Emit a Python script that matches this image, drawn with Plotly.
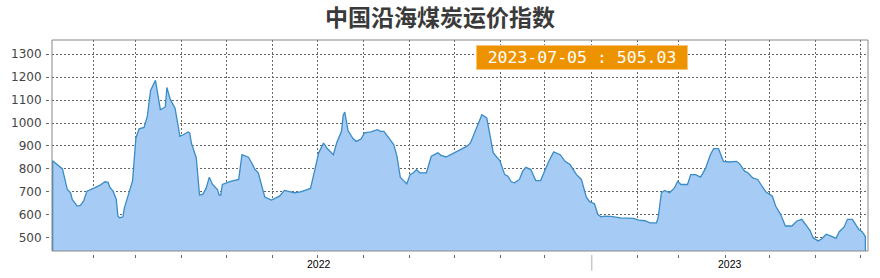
import plotly.graph_objects as go

title_text = "中国沿海煤炭运价指数"
last_date = "2023-07-05"

# trading-day index of each sample and the index value
day_index = [0, 6, 9, 11, 12, 15, 17, 19, 21, 25, 29, 32, 34, 35, 37, 39, 40, 41, 43, 44,
             46, 49, 51, 53, 56, 58, 60, 63, 66, 69, 70, 72, 75, 78, 80, 83, 84, 85, 88, 90,
             92, 94, 96, 98, 101, 102, 103, 104, 109, 114, 116, 120, 122, 124, 126, 128, 130, 134, 139, 142,
             144, 148, 152, 158, 161, 163, 164, 166, 168, 170, 172, 174, 177, 178, 179, 181, 184, 186, 189, 191,
             195, 199, 201, 203, 206, 209, 211, 213, 215, 217, 219, 221, 223, 225, 229, 232, 236, 238, 241, 244,
             251, 254, 256, 258, 260, 263, 266, 268, 270, 274, 277, 279, 281, 283, 286, 288, 290, 293, 296, 299,
             301, 304, 307, 311, 314, 317, 321, 324, 327, 329, 332, 334, 336, 338, 342, 348, 356, 359, 363, 366,
             370, 371, 373, 375, 378, 381, 383, 385, 389, 391, 394, 397, 400, 403, 405, 408, 411, 414, 419, 421,
             424, 426, 429, 432, 434, 437, 441, 443, 446, 449, 453, 456, 459, 462, 464, 466, 469, 471, 474, 477,
             480, 482, 485, 487, 490, 494, 496, 498]
index_values = [836, 800, 710, 696, 667, 638, 641, 660, 703, 715, 729, 744, 741, 720, 703, 667, 594, 587, 590, 631,
                681, 749, 935, 975, 981, 1029, 1142, 1186, 1058, 1070, 1155, 1104, 1065, 942, 949, 961, 957, 913, 848, 686,
                689, 715, 764, 732, 710, 686, 686, 732, 746, 754, 862, 851, 826, 797, 783, 732, 677, 664, 681, 706,
                703, 696, 700, 715, 807, 870, 884, 913, 891, 876, 862, 913, 964, 1033, 1048, 967, 932, 920, 930, 957,
                961, 971, 964, 964, 935, 906, 855, 764, 749, 735, 775, 783, 797, 783, 783, 855, 870, 859, 852, 862,
                887, 899, 913, 949, 986, 1036, 1022, 949, 870, 836, 775, 768, 744, 739, 754, 790, 807, 797, 749, 749,
                783, 833, 874, 862, 833, 819, 775, 754, 677, 657, 648, 602, 591, 594, 593, 586, 584, 577, 574, 565,
                565, 587, 696, 706, 696, 717, 746, 732, 732, 775, 775, 764, 801, 862, 888, 888, 833, 830, 833, 822,
                790, 783, 761, 754, 732, 700, 681, 638, 602, 551, 551, 573, 580, 551, 532, 500, 486, 493, 515, 507,
                497, 526, 547, 580, 580, 536, 526, 505.03]

y_tick_values = [500, 600, 700, 800, 900, 1000, 1100, 1200, 1300]
grid_x_ticks = [24.9, 50.6, 79.0, 106.6, 134.8, 162.1, 190.3, 218.5, 246.1, 274.3,
                301.2, 330.3, 358.5, 383.6, 412.1, 439.1, 467.5, 494.7]
year_labels = ["2022", "2023"]
year_label_pos = [163.5, 415.2]
separator_ticks = [330.3]

x_range = [-0.4, 499.6]
y_range = [442, 1362]

# close the outline down to the axis floor so the edges are stroked like the original
xs = [day_index[0]] + day_index + [day_index[-1]]
ys = [y_range[0]] + index_values + [y_range[0]]

fig = go.Figure()
fig.add_trace(go.Scatter(
    x=xs, y=ys, mode="lines", fill="tozeroy",
    fillcolor="#a6cbf5", line=dict(color="#3a8cc6", width=1.3),
    hoverinfo="skip", showlegend=False,
))

grid_style = dict(showgrid=True, gridcolor="#666666", gridwidth=1, griddash="2px,2px",
                  zeroline=False, showline=False)

fig.update_layout(
    width=880, height=278,
    margin=dict(l=49, r=12, t=40, b=24),
    paper_bgcolor="white", plot_bgcolor="white",
    title=dict(text=title_text, x=0.5, xref="container", xanchor="center",
               y=1 - 18 / 278, yref="container", yanchor="middle",
               font=dict(family="Noto Sans CJK SC", size=23, color="#3a3a3a", weight="bold")),
    xaxis=dict(range=x_range, domain=[3 / 819, 1], anchor="free", position=0,
               tickmode="array", tickvals=grid_x_ticks, showticklabels=False,
               ticks="outside", ticklen=3, tickcolor="#666", **grid_style),
    yaxis=dict(range=y_range, domain=[3 / 214, 1], anchor="free", position=0,
               tickmode="array", tickvals=y_tick_values,
               ticks="outside", ticklen=3, tickcolor="#666", ticklabelstandoff=2,
               tickfont=dict(family="DejaVu Sans", size=12, color="#444"), **grid_style),
    showlegend=False,
)

# plot frame
fig.add_shape(type="rect", xref="x domain", yref="y domain", x0=0, x1=1, y0=0, y1=1,
              line=dict(color="#888888", width=1), layer="above")

# long separator tick below the axis
for sx in separator_ticks:
    fig.add_shape(type="line", xref="x", yref="paper", x0=sx, x1=sx,
                  y0=-1 / 214, y1=-16.7 / 214, line=dict(color="#c8c8c8", width=1.5))

# year labels
for lab, pos in zip(year_labels, year_label_pos):
    fig.add_annotation(xref="x", yref="paper", x=pos, y=-10 / 214, xanchor="center", yanchor="middle",
                       text=lab, showarrow=False,
                       font=dict(family="Liberation Sans", size=10.5, color="#000"))

# latest value badge
fig.add_annotation(xref="paper", yref="paper", x=(582 - 49) / 819, y=(254 - 57.2) / 214,
                   xanchor="center", yanchor="middle", showarrow=False,
                   text=f"{last_date} : {index_values[-1]:.2f}",
                   font=dict(family="DejaVu Sans Mono", size=16.5, color="white"),
                   bgcolor="#ee9300", bordercolor="#f6c57a", borderwidth=1,
                   width=208, height=21)

fig.write_html("out.html")
